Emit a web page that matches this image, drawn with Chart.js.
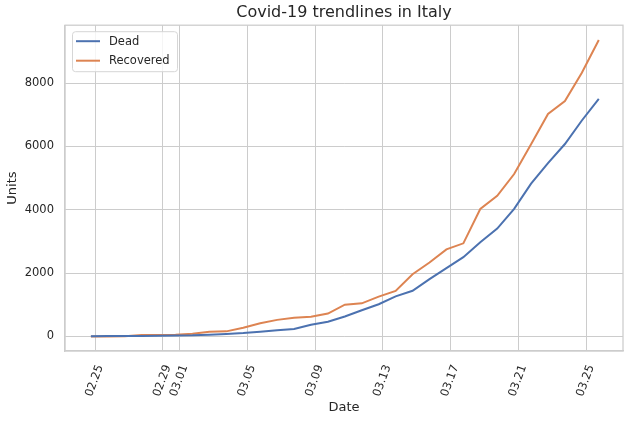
<!DOCTYPE html>
<html>
<head>
<meta charset="utf-8">
<script src="https://cdn.jsdelivr.net/npm/chart.js@4"></script>
<style>
  html, body { margin: 0; padding: 0; background: #fff; }
  #box { width: 630px; height: 422px; }
</style>
</head>
<body>
<div id="box"><canvas id="chart1"></canvas></div>
<script>
// data (Italy, 18:00 daily reports)
const dates = ['02-24', '02-25', '02-26', '02-27', '02-28', '02-29', '03-01', '03-02', '03-03', '03-04',
  '03-05', '03-06', '03-07', '03-08', '03-09', '03-10', '03-11', '03-12', '03-13', '03-14', '03-15',
  '03-16', '03-17', '03-18', '03-19', '03-20', '03-21', '03-22', '03-23', '03-24', '03-25'];
const dead = [7, 10, 12, 17, 21, 29, 34, 52, 79, 107, 148, 197, 233, 366, 463, 631, 827, 1016, 1266, 1441,
  1809, 2158, 2503, 2978, 3405, 4032, 4825, 5476, 6077, 6820, 7503];
const recovered = [1, 1, 3, 45, 46, 50, 83, 149, 160, 276, 414, 523, 589, 622, 724, 1004, 1045, 1258, 1439,
  1966, 2335, 2749, 2941, 4025, 4440, 5129, 6072, 7024, 7432, 8326, 9362];
const xTickLabels = ['02.25', '02.29', '03.01', '03.05', '03.09', '03.13', '03.17', '03.21', '03.25'];
const yTicks = [0, 2000, 4000, 6000, 8000];

// day number counted from 24 feb 2020
function dayOf(s) {
  const p = s.split(/[-.]/).map(Number);
  return (Date.UTC(2020, p[0] - 1, p[1]) - Date.UTC(2020, 1, 24)) / 86400000;
}
const REPORT_HOUR = 18 / 24;

const ink = '#262626';
const gridCol = '#cccccc';
Chart.defaults.font.family = 'DejaVu Sans';
Chart.defaults.color = ink;

function points(vals) {
  return vals.map((v, i) => ({ x: dayOf(dates[i]) + REPORT_HOUR, y: v }));
}

// frame + legend drawn inside the plot like matplotlib
const framePlugin = {
  id: 'frame',
  beforeDatasetsDraw(chart) {
    const a = chart.chartArea, ctx = chart.ctx;
    ctx.save();
    ctx.strokeStyle = gridCol;
    ctx.lineWidth = 1.25;
    ctx.strokeRect(a.left, a.top, a.right - a.left, a.bottom - a.top);
    ctx.restore();
  },
  afterDraw(chart) {
    const a = chart.chartArea, ctx = chart.ctx;
    const x0 = a.left + 7, y0 = a.top + 6, w = 105, h = 40;
    ctx.save();
    ctx.beginPath();
    ctx.roundRect(x0 + 0.5, y0 + 0.5, w, h, 3);
    ctx.fillStyle = 'rgba(255,255,255,0.8)';
    ctx.fill();
    ctx.strokeStyle = '#d6d6d6';
    ctx.lineWidth = 1;
    ctx.stroke();
    ctx.font = '11.5px "DejaVu Sans"';
    ctx.textBaseline = 'middle';
    chart.data.datasets.forEach((ds, i) => {
      const y = y0 + 10 + i * 19.5;
      ctx.beginPath();
      ctx.moveTo(x0 + 4, y);
      ctx.lineTo(x0 + 28, y);
      ctx.strokeStyle = ds.borderColor;
      ctx.lineWidth = 2;
      ctx.stroke();
      ctx.fillStyle = ink;
      ctx.fillText(ds.label, x0 + 37, y + 0.5);
    });
    ctx.restore();
  }
};

const chart1 = document.getElementById('chart1');

new Chart(chart1, {
  type: 'line',
  data: {
    datasets: [{
      label: 'Dead',
      data: points(dead),
      borderColor: '#4c72b0',
      borderWidth: 2,
      pointRadius: 0,
      tension: 0
    }, {
      label: 'Recovered',
      data: points(recovered),
      borderColor: '#dd8452',
      borderWidth: 2,
      pointRadius: 0,
      tension: 0
    }]
  },
  options: {
    responsive: true,
    maintainAspectRatio: false,
    animation: false,
    events: [],
    layout: { padding: { left: 0, right: 7, top: 0, bottom: 0 } },
    plugins: {
      legend: { display: false },
      tooltip: { enabled: false },
      title: {
        display: true,
        text: 'Covid-19 trendlines in Italy',
        fullSize: false,
        color: ink,
        font: { size: 16, weight: 'normal' },
        padding: { top: 3, bottom: 3 }
      }
    },
    scales: {
      x: {
        type: 'linear',
        min: -0.78,
        max: 32.18,
        afterBuildTicks(scale) {
          scale.ticks = xTickLabels.map(t => ({ value: dayOf(t) }));
        },
        afterFit(scale) { scale.height = 71; },
        grid: { color: gridCol, drawTicks: false },
        border: { color: gridCol, width: 1.25 },
        ticks: {
          autoSkip: false,
          minRotation: 70,
          maxRotation: 70,
          padding: 12,
          labelOffset: 5,
          font: { size: 11.5 },
          color: ink,
          callback(v) {
            const i = xTickLabels.findIndex(t => dayOf(t) === v);
            return i >= 0 ? xTickLabels[i] : '';
          }
        },
        title: {
          display: true,
          text: 'Date',
          color: ink,
          font: { size: 13 },
          padding: { top: 0, bottom: 7 }
        }
      },
      y: {
        min: -460,
        max: 9830,
        afterBuildTicks(scale) {
          scale.ticks = yTicks.map(v => ({ value: v }));
        },
        afterFit(scale) { scale.width = 65; },
        grid: { color: gridCol, drawTicks: false },
        border: { color: gridCol, width: 1.25 },
        ticks: {
          padding: 11,
          font: { size: 11.5 },
          color: ink,
          callback: v => String(v)
        },
        title: {
          display: true,
          text: 'Units',
          color: ink,
          font: { size: 13 },
          padding: { top: 5, bottom: 0 }
        }
      }
    }
  },
  plugins: [framePlugin]
});
</script>
</body>
</html>
